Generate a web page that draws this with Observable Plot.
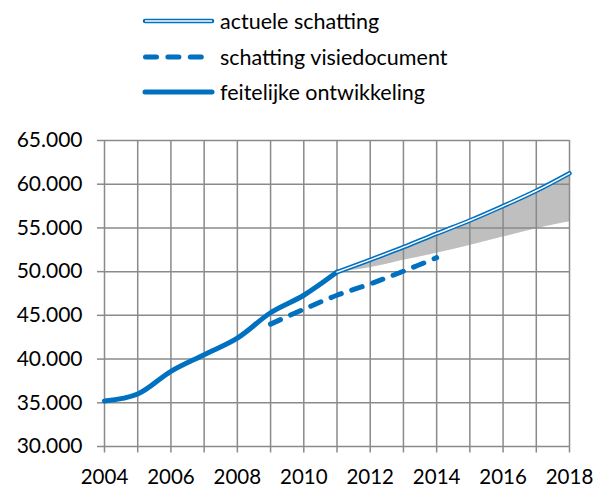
<!DOCTYPE html>
<html>
<head>
<meta charset="utf-8">
<script src="https://cdn.jsdelivr.net/npm/d3@7"></script>
<script src="https://cdn.jsdelivr.net/npm/@observablehq/plot@0.6"></script>
<style>
  html, body { margin: 0; padding: 0; background: #fff; }
  body { width: 603px; height: 487px; overflow: hidden; font-family: Lato, "Noto Sans", sans-serif; color: #000; }
  #legend { position: relative; height: 120px; width: 603px; }
  .item { position: absolute; left: 141px; height: 28px; display: flex; align-items: center; font-size: 21.5px; white-space: nowrap; }
  .item svg { width: 75px; height: 12px; margin-right: 4px; }
  #chart svg { display: block; }
</style>
</head>
<body>
<div id="legend"></div>
<div id="chart"></div>
<script>
// ---- data ----
const gridYears = [2004, 2005, 2006, 2007, 2008, 2009, 2010, 2011, 2012, 2013, 2014, 2015, 2016, 2017, 2018];
const labelYears = [2004, 2006, 2008, 2010, 2012, 2014, 2016, 2018];
const yTicks = [30000, 35000, 40000, 45000, 50000, 55000, 60000, 65000];

const actualYears = [2004, 2005, 2006, 2007, 2008, 2009, 2010, 2011];
const actualValues = [35200, 36000, 38600, 40500, 42400, 45300, 47300, 49950];

const estimateYears = [2011, 2012, 2013, 2014, 2015, 2016, 2017, 2018];
const estimateValues = [49950, 51350, 52800, 54350, 55850, 57500, 59250, 61250];
const bandLowValues = [49950, 50450, 51300, 52100, 53000, 53950, 54900, 55700];

const visionYears = [2009, 2010, 2011, 2012, 2013, 2014];
const visionValues = [44000, 45700, 47300, 48600, 50050, 51600];

const seriesNames = ["actuele schatting", "schatting visiedocument", "feitelijke ontwikkeling"];

// ---- styling ----
const blue = "#0070C0";
const gridColor = "#8a8a8a";

const actual = actualYears.map((x, i) => ({x, y: actualValues[i]}));
const estimate = estimateYears.map((x, i) => ({x, y: estimateValues[i], lo: bandLowValues[i]}));
const vision = visionYears.map((x, i) => ({x, y: visionValues[i]}));

const nl = d3.formatLocale({decimal: ",", thousands: ".", grouping: [3], currency: ["€", ""]});
const fmt = nl.format(",d");

// legend
const swatches = [
  `<svg viewBox="0 0 75 12"><line x1="4" y1="6" x2="71" y2="6" stroke="${blue}" stroke-width="4.5" stroke-linecap="round"/><line x1="4" y1="6" x2="71" y2="6" stroke="#fff" stroke-width="1.5"/></svg>`,
  `<svg viewBox="0 0 75 12"><line x1="4.5" y1="6" x2="71" y2="6" stroke="${blue}" stroke-width="5" stroke-linecap="round" stroke-dasharray="11,11.4"/></svg>`,
  `<svg viewBox="0 0 75 12"><line x1="4" y1="6" x2="71" y2="6" stroke="${blue}" stroke-width="5" stroke-linecap="round"/></svg>`
];
const rowCenters = [21, 57, 92];
const legend = document.getElementById("legend");
seriesNames.forEach((name, i) => {
  const d = document.createElement("div");
  d.className = "item";
  d.style.top = (rowCenters[i] - 14) + "px";
  d.innerHTML = swatches[i] + `<span>${name}</span>`;
  legend.appendChild(d);
});

const chart = Plot.plot({
  width: 603,
  height: 367,
  marginTop: 20,
  marginBottom: 41,
  marginLeft: 104,
  marginRight: 34,
  style: {fontFamily: "Lato, 'Noto Sans', sans-serif", color: "#000", background: "#fff"},
  x: {domain: [2004, 2018]},
  y: {domain: [30000, 65000]},
  marks: [
    Plot.areaY(estimate, {x: "x", y1: "lo", y2: "y", fill: "#bfbfbf", curve: "catmull-rom"}),
    Plot.ruleX(gridYears, {stroke: gridColor, strokeWidth: 1.5}),
    Plot.ruleY(yTicks, {stroke: gridColor, strokeWidth: 1.5}),
    Plot.axisX({ticks: gridYears, tickFormat: d => labelYears.includes(d) ? String(d) : "", tickSize: 6.5, tickPadding: 16, stroke: gridColor, strokeWidth: 1.5, fontSize: 20.5, label: null}),
    Plot.axisY({ticks: yTicks, tickFormat: fmt, tickSize: 7, tickPadding: 15, stroke: gridColor, strokeWidth: 1.5, fontSize: 21, label: null}),
    Plot.line(vision, {x: "x", y: "y", stroke: blue, strokeWidth: 5, strokeDasharray: "11,11", strokeLinecap: "round", curve: "catmull-rom"}),
    Plot.line(actual, {x: "x", y: "y", stroke: blue, strokeWidth: 5, strokeLinecap: "round", curve: "catmull-rom"}),
    Plot.line(estimate, {x: "x", y: "y", stroke: blue, strokeWidth: 4.5, strokeLinecap: "round", curve: "catmull-rom"}),
    Plot.line(estimate, {x: "x", y: "y", stroke: "#fff", strokeWidth: 1.5, curve: "catmull-rom"})
  ]
});
document.getElementById("chart").appendChild(chart);
</script>
</body>
</html>
